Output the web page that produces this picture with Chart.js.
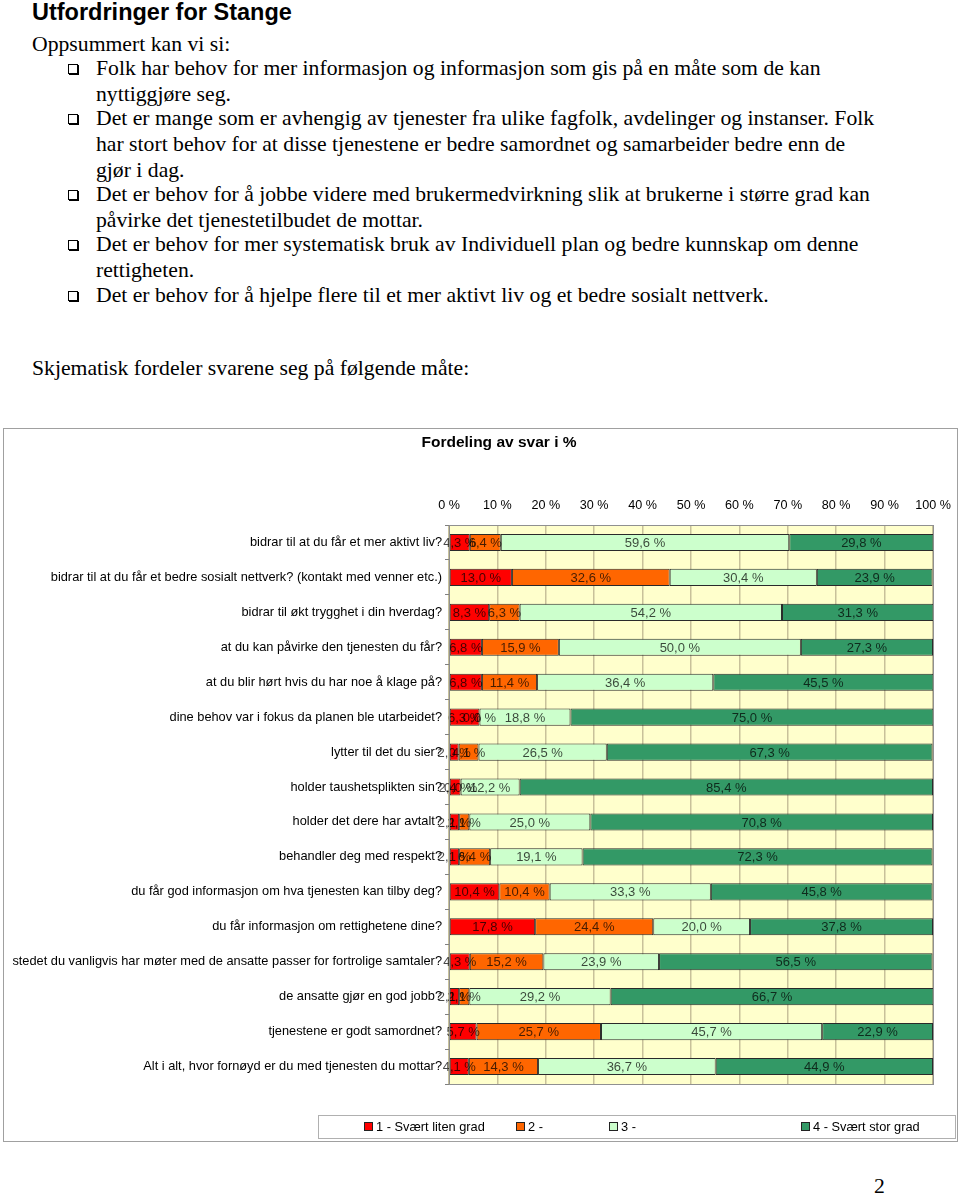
<!DOCTYPE html>
<html>
<head>
<meta charset="utf-8">
<script src="https://cdn.jsdelivr.net/npm/chart.js@4.4.0/dist/chart.umd.min.js"></script>
<style>
  html, body { margin: 0; padding: 0; background: #fff; }
  body { width: 960px; height: 1194px; position: relative; overflow: hidden; }
  .t { position: absolute; white-space: nowrap; font-family: "Liberation Serif", "Times New Roman", serif; font-size: 21.7px; line-height: 26px; color: #000; }
  .h { position: absolute; white-space: nowrap; font-family: "Liberation Sans", Arial, sans-serif; font-weight: bold; font-size: 23.5px; line-height: 26px; color: #000; }
  .b { position: absolute; width: 8px; height: 8px; border: 1px solid #000; box-shadow: 1px 1px 0 #000; }
  #box { position: absolute; left: 3px; top: 428px; width: 955px; height: 714px; border: 1px solid #a0a0a0; box-sizing: border-box; background: #fff; }
  #wrap { position: absolute; left: 0; top: 0; width: 953px; height: 690px; }
  #ctitle { position: absolute; left: 0; width: 990px; top: 4px; text-align: center; font-family: "Liberation Sans", Arial, sans-serif; font-weight: bold; font-size: 15.5px; line-height: 18px; color: #000; }
  #legend { position: absolute; left: 314px; top: 686px; width: 638px; height: 24px; border: 1px solid #b0b0b0; box-sizing: border-box; font-family: "Liberation Sans", Arial, sans-serif; font-size: 12.8px; }
  .li { position: absolute; top: 4px; line-height: 14px; white-space: nowrap; }
  .sq { display: inline-block; width: 7px; height: 7px; border: 1px solid #222; margin-right: 3px; vertical-align: 0px; }
</style>
</head>
<body>
<div class="h" style="left:32px;top:-1px;">Utfordringer for Stange</div>
<div class="t" style="left:32px;top:31px;">Oppsummert kan vi si:</div>

<div class="b" style="left:68px;top:64px;"></div>
<div class="t" style="left:96px;top:55px;">Folk har behov for mer informasjon og informasjon som gis på en måte som de kan</div>
<div class="t" style="left:96px;top:81px;">nyttiggjøre seg.</div>
<div class="b" style="left:68px;top:114px;"></div>
<div class="t" style="left:96px;top:105px;">Det er mange som er avhengig av tjenester fra ulike fagfolk, avdelinger og instanser. Folk</div>
<div class="t" style="left:96px;top:131px;">har stort behov for at disse tjenestene er bedre samordnet og samarbeider bedre enn de</div>
<div class="t" style="left:96px;top:157px;">gjør i dag.</div>
<div class="b" style="left:68px;top:190px;"></div>
<div class="t" style="left:96px;top:181px;">Det er behov for å jobbe videre med brukermedvirkning slik at brukerne i større grad kan</div>
<div class="t" style="left:96px;top:207px;">påvirke det tjenestetilbudet de mottar.</div>
<div class="b" style="left:68px;top:240px;"></div>
<div class="t" style="left:96px;top:231px;">Det er behov for mer systematisk bruk av Individuell plan og bedre kunnskap om denne</div>
<div class="t" style="left:96px;top:257px;">rettigheten.</div>
<div class="b" style="left:68px;top:291px;"></div>
<div class="t" style="left:96px;top:282px;">Det er behov for å hjelpe flere til et mer aktivt liv og et bedre sosialt nettverk.</div>

<div class="t" style="left:32px;top:355px;">Skjematisk fordeler svarene seg på følgende måte:</div>

<div id="box">
  <div id="wrap"><canvas id="c"></canvas></div>
  <div id="ctitle">Fordeling av svar i %</div>
  <div id="legend"></div>
</div>

<div class="t" style="left:874px;top:1173px;">2</div>

<script>
const categories = [
  "bidrar til at du får et mer aktivt liv?",
  "bidrar til at du får et bedre sosialt nettverk? (kontakt med venner etc.)",
  "bidrar til økt trygghet i din hverdag?",
  "at du kan påvirke den tjenesten du får?",
  "at du blir hørt hvis du har noe å klage på?",
  "dine behov var i fokus da planen ble utarbeidet?",
  "lytter til det du sier?",
  "holder taushetsplikten sin?",
  "holder det dere har avtalt?",
  "behandler deg med respekt?",
  "du får god informasjon om hva tjenesten kan tilby deg?",
  "du får informasjon om rettighetene dine?",
  "stedet du vanligvis har møter med de ansatte passer for fortrolige samtaler?",
  "de ansatte gjør en god jobb?",
  "tjenestene er godt samordnet?",
  "Alt i alt, hvor fornøyd er du med tjenesten du mottar?"
];
const seriesNames = ["1 - Svært liten grad", "2 -", "3 -", "4 - Svært stor grad"];
const grad1 = [4.3, 13.0, 8.3, 6.8, 6.8, 6.3, 2.0, 2.4, 2.1, 2.1, 10.4, 17.8, 4.3, 2.1, 5.7, 4.1];
const grad2 = [6.4, 32.6, 6.3, 15.9, 11.4, 0.0, 4.1, 0.0, 2.1, 6.4, 10.4, 24.4, 15.2, 2.1, 25.7, 14.3];
const grad3 = [59.6, 30.4, 54.2, 50.0, 36.4, 18.8, 26.5, 12.2, 25.0, 19.1, 33.3, 20.0, 23.9, 29.2, 45.7, 36.7];
const grad4 = [29.8, 23.9, 31.3, 27.3, 45.5, 75.0, 67.3, 85.4, 70.8, 72.3, 45.8, 37.8, 56.5, 66.7, 22.9, 44.9];
const xTicks = [0, 10, 20, 30, 40, 50, 60, 70, 80, 90, 100];

const colors = ["#FF0000", "#FF6600", "#CCFFCC", "#339966"];
const seriesValues = [grad1, grad2, grad3, grad4];

const FONT = "'Liberation Sans', Arial, sans-serif";
const fmt = v => v.toFixed(1).replace('.', ',') + ' %';

const plotBg = {
  id: 'plotBg',
  beforeDraw(chart) {
    const a = chart.chartArea, ctx = chart.ctx;
    ctx.save();
    ctx.fillStyle = '#FFFFCC';
    ctx.fillRect(a.left, a.top, a.right - a.left, a.bottom - a.top);
    ctx.restore();
  },
  afterDraw(chart) {
    const a = chart.chartArea, ctx = chart.ctx;
    ctx.save();
    ctx.strokeStyle = '#909090';
    ctx.lineWidth = 1;
    ctx.strokeRect(Math.round(a.left) + 0.5, Math.round(a.top) + 0.5, Math.round(a.right - a.left), Math.round(a.bottom - a.top));
    ctx.restore();
  }
};

const valueLabels = {
  id: 'valueLabels',
  afterDatasetsDraw(chart) {
    const ctx = chart.ctx;
    ctx.save();
    ctx.font = '13px ' + FONT;
    ctx.textAlign = 'center';
    ctx.textBaseline = 'middle';
    ctx.fillStyle = 'rgba(0,0,0,0.72)';
    chart.data.datasets.forEach((ds, i) => {
      const meta = chart.getDatasetMeta(i);
      meta.data.forEach((el, j) => {
        const cx = (el.x + el.base) / 2;
        ctx.fillText(fmt(ds.data[j]), cx, el.y + 1);
      });
    });
    ctx.restore();
  }
};

new Chart(document.getElementById('c'), {
  type: 'bar',
  data: {
    labels: categories,
    datasets: seriesValues.map((vals, i) => ({
      label: seriesNames[i],
      data: vals,
      backgroundColor: colors[i],
      borderColor: '#2a2a2a',
      borderWidth: 1,
      borderSkipped: false,
      barPercentage: 0.49,
      categoryPercentage: 1.0
    }))
  },
  options: {
    indexAxis: 'y',
    responsive: true,
    maintainAspectRatio: false,
    animation: false,
    layout: { padding: { left: 0, right: 24, top: 0, bottom: 35 } },
    plugins: {
      legend: { display: false },
      tooltip: { enabled: false },
      title: { display: false }
    },
    scales: {
      x: {
        stacked: true,
        position: 'top',
        min: 0,
        max: 100,
        afterBuildTicks: s => { s.ticks = xTicks.map(v => ({ value: v })); },
        afterFit: s => { s.height = 96; },
        ticks: {
          color: '#000',
          font: { family: FONT, size: 12.6 },
          padding: 0,
          maxRotation: 0,
          autoSkip: false,
          callback: v => v + ' %'
        },
        grid: { color: '#C8C19A', lineWidth: 1.5, drawTicks: true, tickLength: 12, tickColor: 'rgba(0,0,0,0)' },
        border: { display: false }
      },
      y: {
        stacked: true,
        afterFit: s => { s.width = 445; },
        ticks: {
          color: '#000',
          font: { family: FONT, size: 12.8 },
          padding: 3,
          autoSkip: false
        },
        grid: { drawOnChartArea: false, drawTicks: true, tickLength: 4, color: '#808080', offset: true },
        border: { display: true, color: '#808080' }
      }
    }
  },
  plugins: [plotBg, valueLabels]
});

const legend = document.getElementById('legend');
const legendLefts = [45, 197, 290, 482];
seriesNames.forEach((name, i) => {
  const d = document.createElement('div');
  d.className = 'li';
  d.style.left = legendLefts[i] + 'px';
  const s = document.createElement('span');
  s.className = 'sq';
  s.style.background = colors[i];
  d.appendChild(s);
  d.appendChild(document.createTextNode(name));
  legend.appendChild(d);
});
</script>
</body>
</html>
